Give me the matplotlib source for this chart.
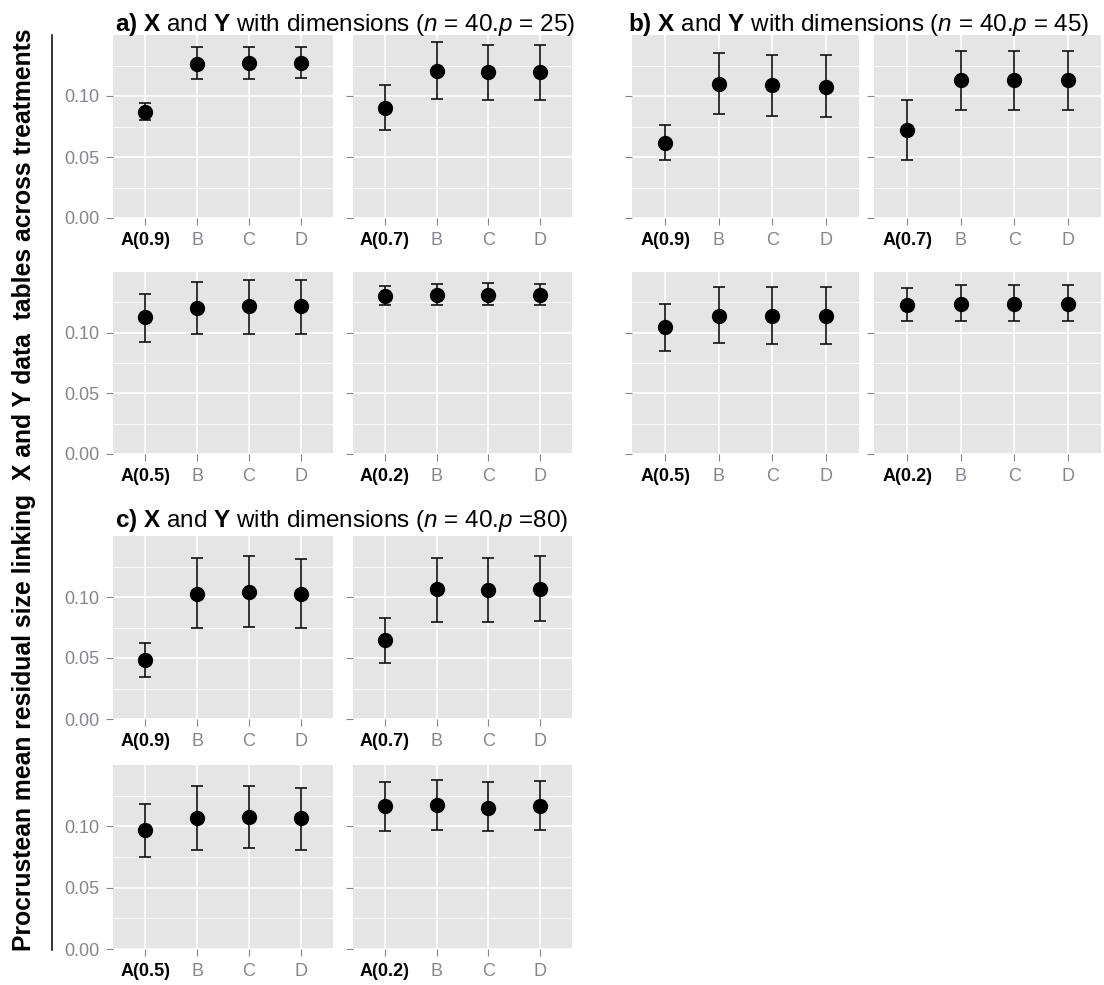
import matplotlib
matplotlib.use("Agg")
import matplotlib.pyplot as plt
from matplotlib.lines import Line2D

plt.rcParams['font.family'] = ['Liberation Sans', 'DejaVu Sans']
plt.rcParams['mathtext.fontset'] = 'custom'
plt.rcParams['mathtext.rm'] = 'Liberation Sans'
plt.rcParams['mathtext.bf'] = 'Liberation Sans:bold'
plt.rcParams['mathtext.it'] = 'Liberation Sans:italic'

# ---------------- data ----------------
categories = ['B', 'C', 'D']
a_labels = ['A(0.9)', 'A(0.7)', 'A(0.5)', 'A(0.2)']
y_ticks = [0.00, 0.05, 0.10]
y_ticklabels = ['0.00', '0.05', '0.10']

mean_a = [[0.0872, 0.1264, 0.1269, 0.1270],
          [0.0902, 0.1204, 0.1193, 0.1193],
          [0.1128, 0.1205, 0.1216, 0.1216],
          [0.1303, 0.1314, 0.1314, 0.1314]]
lo_a = [[0.0802, 0.1136, 0.1136, 0.1150],
        [0.0720, 0.0978, 0.0967, 0.0967],
        [0.0923, 0.0989, 0.0989, 0.0989],
        [0.1224, 0.1224, 0.1224, 0.1224]]
hi_a = [[0.0946, 0.1400, 0.1400, 0.1400],
        [0.1087, 0.1440, 0.1418, 0.1418],
        [0.1322, 0.1421, 0.1432, 0.1432],
        [0.1388, 0.1399, 0.1410, 0.1399]]

mean_b = [[0.0611, 0.1100, 0.1087, 0.1073],
          [0.0720, 0.1128, 0.1128, 0.1128],
          [0.1044, 0.1139, 0.1139, 0.1139],
          [0.1230, 0.1238, 0.1238, 0.1238]]
lo_b = [[0.0476, 0.0851, 0.0837, 0.0826],
        [0.0476, 0.0883, 0.0883, 0.0883],
        [0.0850, 0.0915, 0.0904, 0.0904],
        [0.1098, 0.1098, 0.1098, 0.1098]]
hi_b = [[0.0764, 0.1353, 0.1334, 0.1334],
        [0.0967, 0.1372, 0.1372, 0.1372],
        [0.1238, 0.1380, 0.1380, 0.1380],
        [0.1366, 0.1390, 0.1390, 0.1390]]

mean_c = [[0.0485, 0.1027, 0.1041, 0.1027],
          [0.0646, 0.1063, 0.1054, 0.1063],
          [0.0970, 0.1066, 0.1077, 0.1066],
          [0.1164, 0.1172, 0.1153, 0.1164]]
lo_c = [[0.0343, 0.0744, 0.0755, 0.0744],
        [0.0460, 0.0796, 0.0796, 0.0807],
        [0.0754, 0.0811, 0.0820, 0.0811],
        [0.0959, 0.0970, 0.0959, 0.0970]]
hi_c = [[0.0624, 0.1322, 0.1332, 0.1310],
        [0.0828, 0.1322, 0.1322, 0.1332],
        [0.1186, 0.1325, 0.1325, 0.1314],
        [0.1358, 0.1380, 0.1358, 0.1369]]

titles = {
    'a': r"$\mathbf{a)\ X}$ and $\mathbf{Y}$ with dimensions ($\mathit{n}$ = 40.$\mathit{p}$ = 25)",
    'b': r"$\mathbf{b)\ X}$ and $\mathbf{Y}$ with dimensions ($\mathit{n}$ = 40.$\mathit{p}$ = 45)",
    'c': r"$\mathbf{c)\ X}$ and $\mathbf{Y}$ with dimensions ($\mathit{n}$ = 40.$\mathit{p}$ =80)",
}
ylabel = "Procrustean mean residual size linking  X and Y data  tables across treatments"

# ---------------- layout (pixels) ----------------
W, H = 1104, 985
fig = plt.figure(figsize=(W / 100, H / 100), dpi=100)

def px_axes(l, t, r, b):
    return fig.add_axes([l / W, 1 - b / H, (r - l) / W, (b - t) / H])

groups = {
    'a': dict(cols=[(113, 333), (353, 572)], rows=[(35, 218), (272, 454)],
              mean=mean_a, lo=lo_a, hi=hi_a, ylab=True, title_xy=(115, 31)),
    'b': dict(cols=[(632, 859), (874, 1101)], rows=[(35, 218), (272, 454)],
              mean=mean_b, lo=lo_b, hi=hi_b, ylab=False, title_xy=(628, 31)),
    'c': dict(cols=[(113, 333), (353, 572)], rows=[(536, 719), (765, 949)],
              mean=mean_c, lo=lo_c, hi=hi_c, ylab=True, title_xy=(115, 527)),
}

BG = '#E5E5E5'
GRAY = '#858590'

for key, g in groups.items():
    for i in range(4):
        r, c = divmod(i, 2)
        l, rr = g['cols'][c]
        t, b = g['rows'][r]
        ax = px_axes(l, t, rr, b)
        ax.set_facecolor(BG)
        for s in ax.spines.values():
            s.set_visible(False)
        xs = list(range(4))
        m = g['mean'][i]
        yerr_lo = [m[j] - g['lo'][i][j] for j in range(4)]
        yerr_hi = [g['hi'][i][j] - m[j] for j in range(4)]
        ax.errorbar(xs, m, yerr=[yerr_lo, yerr_hi], fmt='none', ecolor='#111111',
                    elinewidth=1.2, capsize=4.5, capthick=1.2, zorder=3)
        ax.plot(xs, m, 'o', color='black', markersize=10, zorder=4)
        ax.set_xlim(-0.62, 3.62)
        ax.set_ylim(0, 0.15)
        ax.set_yticks(y_ticks)
        ax.set_yticks([0.025, 0.075, 0.125], minor=True)
        ax.set_xticks(xs)
        ax.set_xticklabels([a_labels[i]] + categories)
        xt = ax.get_xticklabels()
        xt[0].set_fontweight('bold')
        xt[0].set_color('black')
        for lab in xt[1:]:
            lab.set_color(GRAY)
        if g['ylab'] and c == 0:
            ax.set_yticklabels(y_ticklabels)
        else:
            ax.set_yticklabels([])
        for lab in ax.get_yticklabels():
            lab.set_color(GRAY)
        ax.tick_params(axis='both', which='major', length=5, width=0.8, color=GRAY,
                       labelsize=13, pad=5)
        ax.tick_params(axis='y', which='minor', length=0)
        ax.grid(True, which='major', color='white', linewidth=1.2)
        ax.grid(True, which='minor', axis='y', color='white', linewidth=0.6)
        ax.set_axisbelow(True)
    tx, ty = g['title_xy']
    fig.text(tx / W, 1 - ty / H, titles[key], fontsize=17.5, ha='left', va='baseline')

# y label (fitted to the available height) and side line
ytxt = fig.text(24 / W, 1 - 490 / H, ylabel, rotation=90, ha='center', va='center',
                fontsize=19, fontweight='bold')
renderer = fig.canvas.get_renderer()
ext = ytxt.get_window_extent(renderer=renderer)
target = 925.0
ytxt.set_fontsize(19 * target / ext.height)
fig.add_artist(Line2D([52 / W, 52 / W], [1 - 35 / H, 1 - 950 / H],
                      transform=fig.transFigure, color='black', linewidth=1.1))

fig.savefig('out.png', dpi=100)
